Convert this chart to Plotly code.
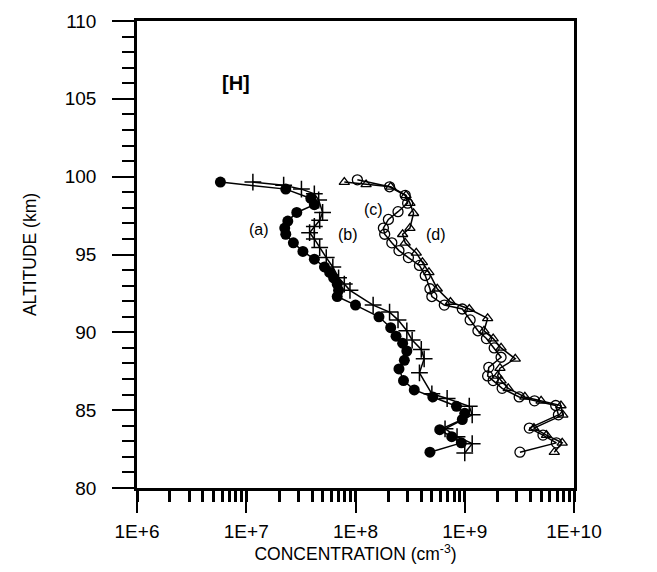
import math
import plotly.graph_objects as go

# ---- data (altitude km, concentration cm^-3) ----
alt_a = [99.65, 99.2, 98.6, 98.2, 97.7, 97.15, 96.7, 96.3, 95.75, 95.2, 94.7, 94.2, 93.85, 93.5,
         93.1, 92.7, 92.3, 91.75, 91.0, 90.3, 89.75, 89.3, 88.8, 88.2, 87.65, 86.9, 86.3, 85.85,
         85.25, 84.8, 84.4, 83.75, 83.3, 82.9, 82.3]
conc_a = [5.8e6, 2.3e7, 3.9e7, 4.2e7, 2.9e7, 2.4e7, 2.25e7, 2.3e7, 2.7e7, 3.3e7, 4.2e7, 5.2e7,
          5.8e7, 6.3e7, 6.8e7, 7.0e7, 6.8e7, 1.0e8, 1.64e8, 2.1e8, 2.35e8, 2.7e8, 2.95e8, 2.8e8,
          2.5e8, 2.75e8, 3.45e8, 5.1e8, 8.4e8, 1.0e9, 9.5e8, 5.9e8, 7.6e8, 9.3e8, 4.8e8]

alt_b = [99.65, 99.45, 99.2, 98.9, 98.5, 97.7, 97.2, 96.8, 96.4, 96.0, 95.45, 94.8, 94.2, 93.5,
         93.1, 92.7, 91.75, 91.3, 90.8, 90.1, 89.5, 88.9, 88.3, 87.4, 86.05, 85.75, 85.25, 84.7,
         83.8, 83.3, 82.85, 82.25]
conc_b = [1.15e7, 2.2e7, 3.2e7, 4.2e7, 4.6e7, 5.0e7, 4.7e7, 4.2e7, 3.8e7, 4.2e7, 4.7e7, 5.4e7,
          6.2e7, 7.0e7, 7.9e7, 8.9e7, 1.45e8, 2.05e8, 2.45e8, 2.95e8, 3.3e8, 4.0e8, 4.25e8, 3.85e8,
          5.0e8, 6.9e8, 1.1e9, 1.17e9, 6.6e8, 8.5e8, 1.17e9, 1.0e9]

alt_c = [99.8, 99.35, 98.8, 98.3, 97.75, 97.25, 96.7, 96.3, 95.75, 95.25, 94.8, 94.3, 93.65,
         92.8, 92.3, 91.75, 91.5, 90.8, 90.1, 89.6, 89.0, 88.4, 87.75, 87.2, 86.9, 86.4, 85.85,
         85.6, 85.3, 84.7, 83.85, 83.4, 82.9, 82.3]
conc_c = [1.04e8, 2.05e8, 2.85e8, 3.0e8, 2.45e8, 2.0e8, 1.8e8, 1.85e8, 2.15e8, 2.5e8, 3.05e8,
          3.85e8, 4.35e8, 4.8e8, 5.0e8, 6.5e8, 9.5e8, 1.12e9, 1.32e9, 1.58e9, 1.86e9, 2.15e9,
          1.66e9, 1.62e9, 1.82e9, 2.2e9, 3.15e9, 4.35e9, 6.8e9, 7.2e9, 3.9e9, 5.2e9, 6.9e9, 3.2e9]

alt_d = [99.65, 99.5, 99.35, 98.8, 98.3, 97.65, 96.7, 96.3, 95.75, 95.1, 94.5, 93.85, 92.8,
         91.95, 91.5, 90.9, 90.1, 89.6, 89.0, 88.3, 87.7, 87.2, 86.9, 86.4, 85.85, 85.6, 85.3,
         84.7, 83.85, 83.4, 82.9, 82.3]
conc_d = [7.9e7, 1.25e8, 2.1e8, 2.9e8, 3.15e8, 3.4e8, 3.15e8, 2.7e8, 2.85e8, 3.6e8, 4.1e8,
          4.7e8, 5.6e8, 7.4e8, 1.1e9, 1.62e9, 1.5e9, 1.82e9, 2.15e9, 2.9e9, 2.1e9, 2.0e9, 2.15e9,
          2.5e9, 3.55e9, 5.0e9, 7.6e9, 7.9e9, 4.3e9, 5.6e9, 7.8e9, 6.6e9]

x_tickvals = [1e6, 1e7, 1e8, 1e9, 1e10]
x_ticktext = ["1E+6", "1E+7", "1E+8", "1E+9", "1E+10"]
y_tickvals = [80, 85, 90, 95, 100, 105, 110]

curve_labels = ["(a)", "(b)", "(c)", "(d)"]
label_pos = [(1.32e7, 96.6), (8.6e7, 96.3), (1.45e8, 97.9), (5.5e8, 96.3)]
panel_label = "[H]"
panel_pos = (8.0e6, 106.0)

FONT = "Liberation Sans, Arial, sans-serif"

fig = go.Figure()
fig.add_trace(go.Scatter(x=conc_a, y=alt_a, mode="lines+markers",
                         line=dict(color="black", width=1.5),
                         marker=dict(symbol="circle", size=11, color="black")))
fig.add_trace(go.Scatter(x=conc_b, y=alt_b, mode="lines+markers",
                         line=dict(color="black", width=1.5),
                         marker=dict(symbol="cross-thin", size=12, color="black",
                                     line=dict(color="black", width=1.5))))
fig.add_trace(go.Scatter(x=conc_c, y=alt_c, mode="lines+markers",
                         line=dict(color="black", width=1.5),
                         marker=dict(symbol="circle-open", size=10, color="black",
                                     line=dict(color="black", width=1.3))))
fig.add_trace(go.Scatter(x=conc_d, y=alt_d, mode="lines+markers",
                         line=dict(color="black", width=1.5),
                         marker=dict(symbol="triangle-up-open", size=9, color="black",
                                     line=dict(color="black", width=1.3))))

for txt, (xv, yv) in zip(curve_labels, label_pos):
    fig.add_annotation(x=math.log10(xv), y=yv, text=txt, showarrow=False,
                       font=dict(family=FONT, size=16, color="black"))
fig.add_annotation(x=math.log10(panel_pos[0]), y=panel_pos[1], text="<b>" + panel_label + "</b>",
                   showarrow=False, font=dict(family=FONT, size=20, color="black"))

fig.update_xaxes(type="log", range=[6, 10], tickmode="array", tickvals=x_tickvals,
                 ticktext=x_ticktext, ticks="outside", ticklen=22, tickwidth=2,
                 tickcolor="black", showline=True, linecolor="black", linewidth=2.5,
                 mirror=True, showgrid=False, zeroline=False,
                 tickfont=dict(family=FONT, size=19, color="black"),
                 ticklabelstandoff=2,
                 minor=dict(ticks="outside", ticklen=11, tickwidth=2.5, tickcolor="black",
                            dtick="D1", showgrid=False),
                 title=dict(text="CONCENTRATION (cm<sup>-3</sup>)", standoff=6,
                            font=dict(family=FONT, size=17.5, color="black")))
fig.update_yaxes(range=[80, 110], tickmode="array", tickvals=y_tickvals,
                 ticks="outside", ticklen=22, tickwidth=2, tickcolor="black",
                 showline=True, linecolor="black", linewidth=2.5, mirror=True,
                 showgrid=False, zeroline=False,
                 tickfont=dict(family=FONT, size=19, color="black"),
                 ticklabelstandoff=12,
                 minor=dict(ticks="outside", ticklen=12, tickwidth=2, tickcolor="black",
                            dtick=1, showgrid=False),
                 title=dict(text="ALTITUDE (km)", standoff=24,
                            font=dict(family=FONT, size=17.5, color="black")))

fig.update_layout(width=657, height=572, showlegend=False,
                  margin=dict(l=137, r=83, t=11, b=84),
                  paper_bgcolor="white", plot_bgcolor="white")

fig.write_html("out.html")
